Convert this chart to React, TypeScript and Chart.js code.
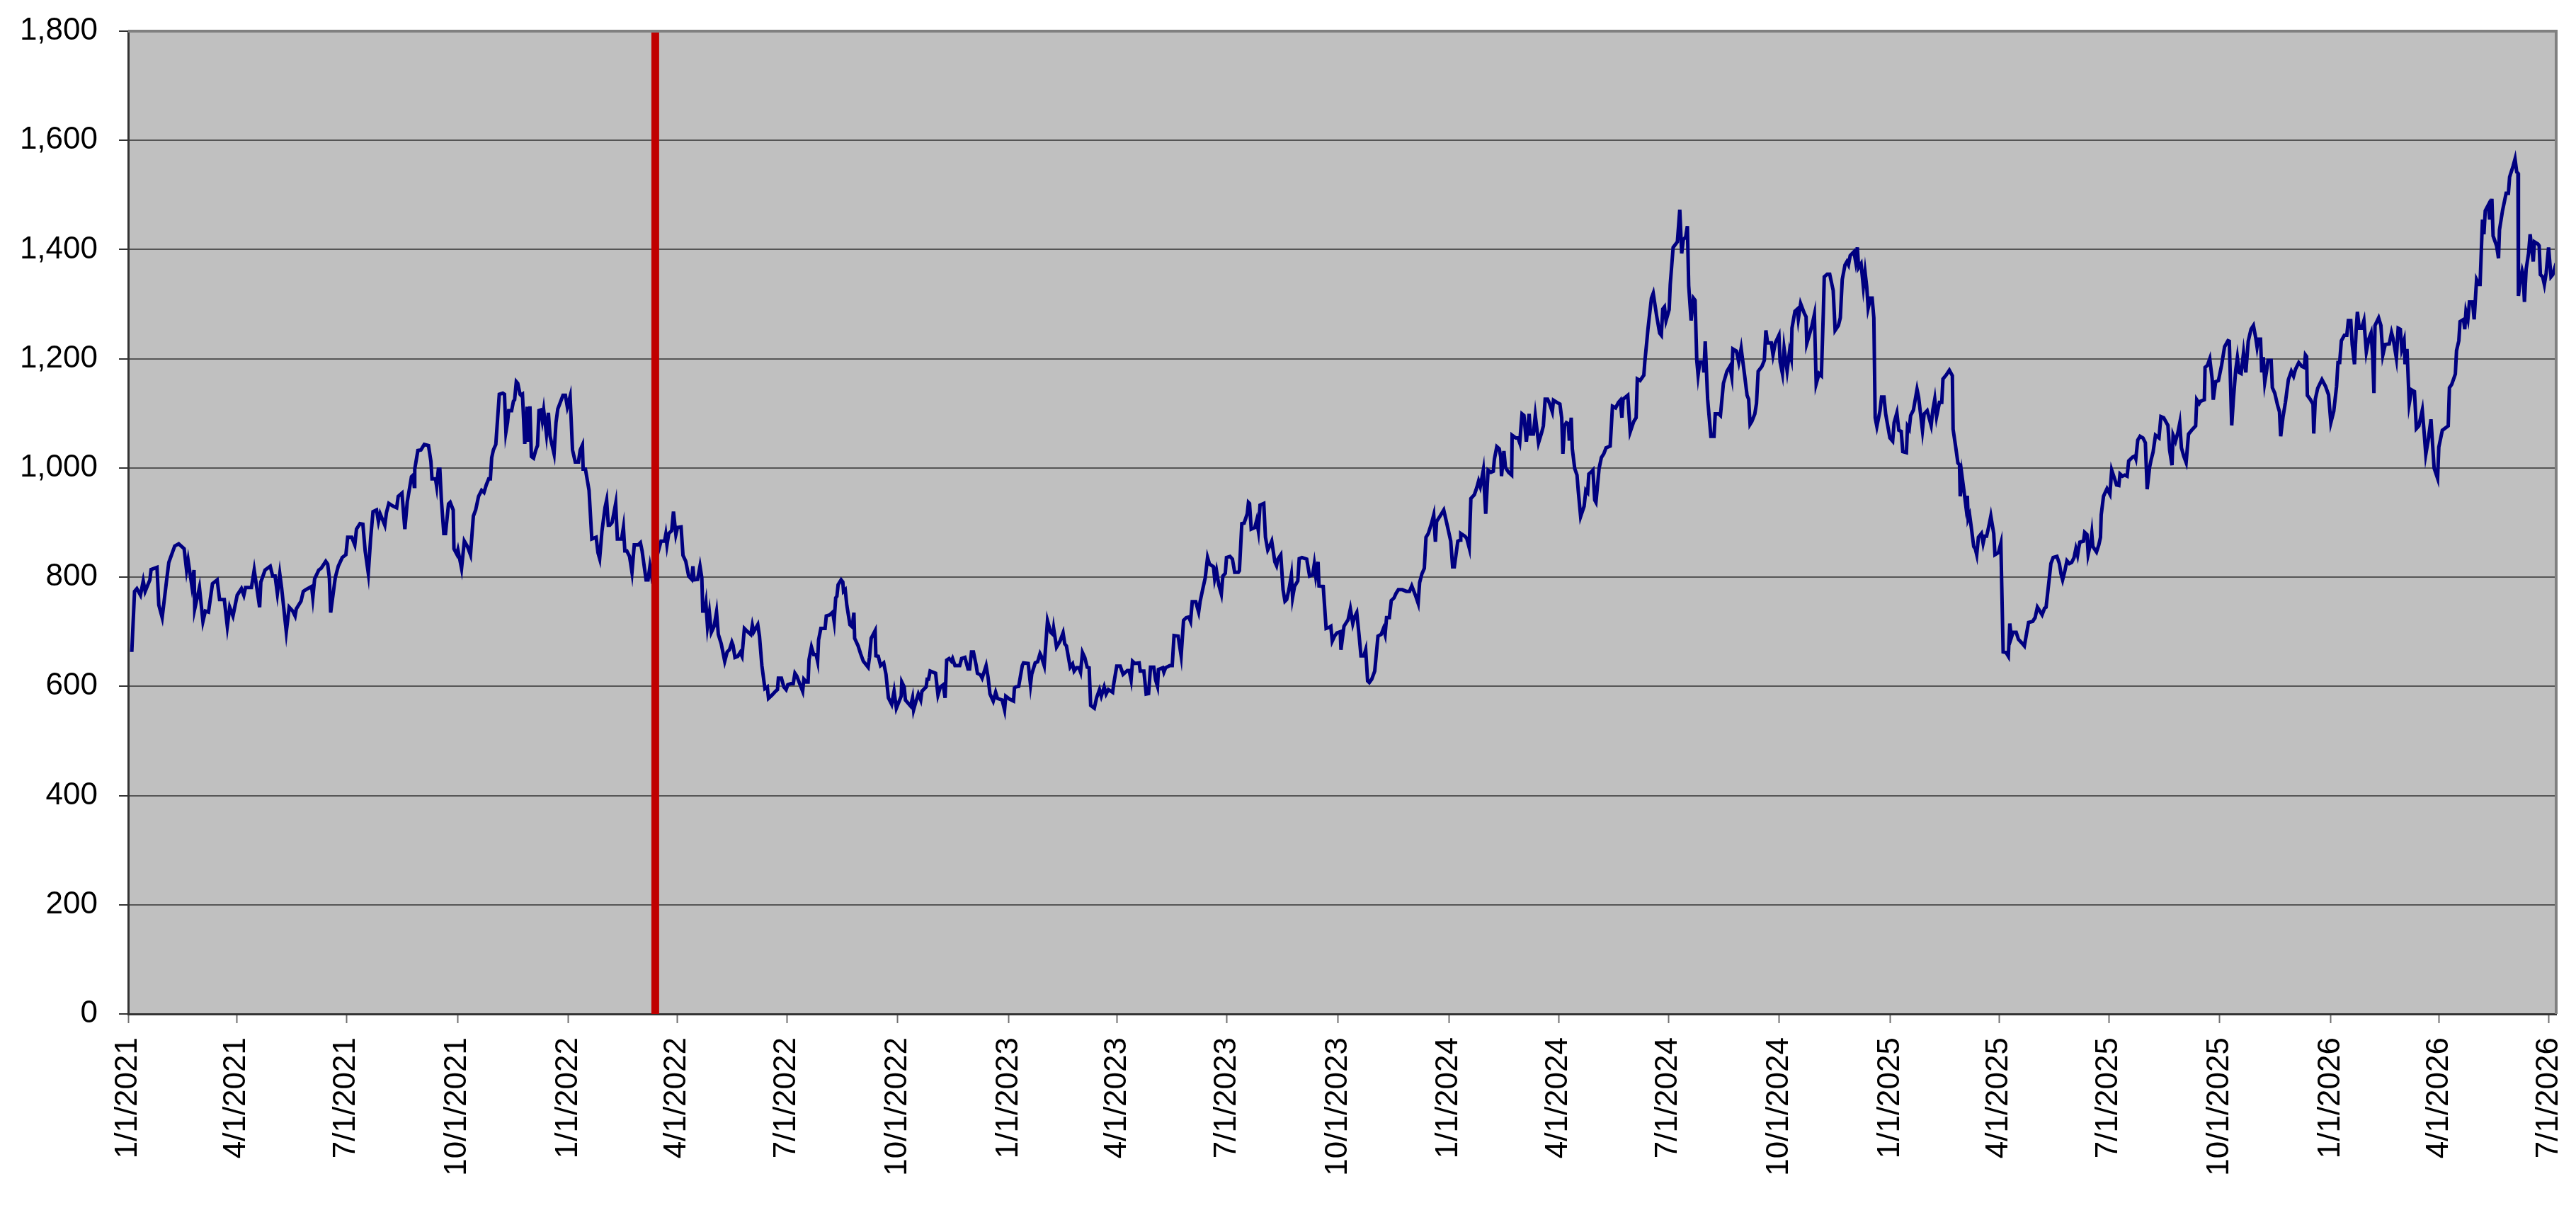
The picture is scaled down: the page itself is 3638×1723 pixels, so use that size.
import { useEffect, useRef } from "react";
import { Chart, registerables } from "chart.js";

Chart.register(...registerables);

// day offsets are counted from 1/1/2021
const START_DATE = "1/1/2021";
const LAST_DAY = 2013;
const EVENT_DATE = "3/14/2022";

const QUARTER_LABELS = [
    "1/1/2021", "4/1/2021", "7/1/2021", "10/1/2021",
    "1/1/2022", "4/1/2022", "7/1/2022", "10/1/2022",
    "1/1/2023", "4/1/2023", "7/1/2023", "10/1/2023",
    "1/1/2024", "4/1/2024", "7/1/2024", "10/1/2024",
    "1/1/2025", "4/1/2025", "7/1/2025", "10/1/2025",
    "1/1/2026", "4/1/2026", "7/1/2026",
];

const Y_MIN = 0;
const Y_MAX = 1800;
const Y_STEP = 200;

const points2021: [number, number][] = [
    [3, 663], [5.3, 774], [7.2, 779], [10.2, 767], [12.5, 793], [14.1, 774], [18, 795], [19, 814], [23.9, 818],
    [25.4, 749], [28.2, 726], [31.7, 791], [33.7, 827], [38.6, 857], [41.9, 861], [46.4, 852], [48.4, 813],
    [49.7, 831], [52.8, 784], [54.6, 813], [55.2, 742], [59.1, 781], [62, 719], [64, 738], [66.6, 736],
    [69.9, 788], [73.8, 795], [75.8, 759], [79.7, 759], [82.2, 710], [84.2, 745], [86.9, 729], [90.4, 767],
    [93.9, 779], [95.9, 767], [97.3, 781], [102.2, 781], [104.5, 813], [109, 745], [110, 791], [113.5, 813],
    [117.8, 820], [119.8, 802], [121.8, 802], [123.7, 770], [125.7, 806], [127.2, 781], [131.1, 700],
    [133.5, 745], [136.4, 738], [138.4, 729], [139.4, 742], [143.3, 756], [145.2, 774], [147.2, 777],
    [152.1, 783], [153.1, 763], [154.6, 797], [158, 813], [159.9, 816], [163.8, 829], [165.4, 824],
    [166.8, 799], [167.9, 735], [171.7, 799], [174.2, 820], [177.5, 836], [180.5, 841], [182, 873],
    [185.4, 873], [187.9, 859], [189.3, 888], [192.2, 898], [194.6, 897], [196.5, 848], [199.1, 807],
    [201, 870], [203, 920], [205.9, 923], [207.5, 902], [208.9, 916], [212.8, 895], [214.1, 918], [216.1, 935],
    [219.6, 930], [222.6, 927], [223.9, 948], [227, 954], [229.4, 888], [231.4, 938], [234.9, 984],
    [236.3, 987], [237.2, 966], [237.6, 998], [240.2, 1032], [242.7, 1033], [245.5, 1043], [249, 1041],
    [251, 1012], [251.9, 980], [254.8, 980], [255.8, 966], [257.2, 998], [258.4, 998], [259.7, 941],
    [261.7, 880], [263.1, 880], [265.6, 934], [267, 937], [269.5, 923], [270.1, 852], [272.5, 842],
    [273.4, 850], [276.4, 816], [278.7, 866], [281.3, 856], [283.8, 841], [286.2, 912], [288.1, 923],
    [290.5, 948], [293, 959], [295, 955], [296.9, 969], [298.9, 980], [300.3, 980], [301.4, 1019],
    [302.8, 1033], [304.8, 1043], [307.7, 1135], [310.6, 1137], [312, 1135], [313.2, 1066], [314.5, 1083],
    [315.5, 1105], [317.9, 1105], [319.4, 1122], [320.4, 1125], [321.8, 1158], [323, 1155], [324.9, 1135],
    [325.7, 1133], [326.9, 1135], [328.8, 1044], [330.8, 1112], [331.6, 1048], [333.1, 1113], [334.3, 1021],
    [336.1, 1018], [338, 1033], [339.4, 1041], [340.6, 1105], [341.9, 1106], [343.3, 1087], [344.5, 1106],
    [346.8, 1062], [348.4, 1101], [349.8, 1058], [353.1, 1026], [354.7, 1083], [356.2, 1108], [358.6, 1122],
    [360.5, 1133], [362.5, 1133], [364.1, 1112],
];

const points2022: [number, number][] = [
    [366.4, 1131], [368.4, 1033], [370.7, 1011], [373.3, 1011], [374.8, 1033], [376.6, 1042], [377.2, 998],
    [379.1, 998], [382.1, 959], [384.4, 870], [388, 873], [389.5, 845], [390.9, 834], [392.8, 884],
    [395.4, 928], [396.7, 941], [398.1, 895], [399.3, 895], [401.2, 900], [404.2, 935], [405.6, 870],
    [409.1, 870], [410.6, 891], [411.8, 848], [413.4, 848], [415.7, 838], [417.7, 809], [419.6, 859],
    [422.8, 859], [424.7, 863], [426.1, 848], [429.4, 795], [431, 795], [432.6, 820], [434, 802],
    [441.8, 866], [444.7, 866], [445.7, 878], [446.7, 859], [448.2, 880], [450.6, 885], [452.1, 920],
    [454.1, 878], [455.5, 891], [458.4, 892], [460, 840], [462.3, 829], [464.7, 802], [467.2, 796],
    [468.2, 820], [469.2, 795], [472.1, 796], [474.1, 820], [475.6, 799], [476.4, 738], [478, 738],
    [479, 752], [480.3, 710], [481.9, 735], [483.5, 699], [485.8, 710], [487.8, 736], [489.3, 695],
    [491.7, 678], [494.6, 646], [496.6, 663], [498.5, 667], [500.5, 681], [501.5, 675], [503.1, 653],
    [505.4, 655], [507.4, 662], [508.9, 655], [510.9, 706], [513.6, 700], [516.2, 695], [517.5, 712],
    [518.7, 700], [522, 713], [523.4, 692], [525.4, 638], [527.9, 596], [529.9, 599], [530.9, 578],
    [533.8, 584], [536.7, 591], [538.3, 594], [539.1, 615], [541.6, 615], [543.6, 599], [545.5, 594],
    [546.9, 603], [549.5, 605], [551.4, 605], [552.8, 624], [554.3, 619], [556.7, 605], [559.2, 591],
    [560.2, 613], [562.2, 608], [563.7, 608], [564.5, 649], [566.5, 672], [568.4, 658], [570.4, 658],
    [571.6, 646], [572.4, 685], [574.3, 706], [577.8, 706], [578.8, 729], [581.7, 731], [584.1, 736],
    [585.3, 719], [586.6, 762], [587.6, 765], [588.6, 786], [591.1, 795], [592.5, 791], [593.1, 774],
    [594.5, 777], [595.8, 749], [598.4, 713], [600.3, 709], [601.7, 735], [602.3, 688], [605.2, 674],
    [607.2, 660], [609.5, 646], [613.5, 635], [614.6, 653], [616, 688], [619.3, 702], [619.9, 656],
    [621.9, 655], [623.8, 638], [626.4, 643], [628.3, 622], [630.3, 579], [633, 567], [635, 591],
    [636.9, 560], [640.9, 582], [641.4, 608], [643.4, 599], [644.4, 575], [648.7, 564], [650.3, 579],
    [651.2, 557], [653.2, 573], [655.1, 586], [657.1, 575], [658.1, 591], [661.6, 599], [662.4, 613],
    [663.6, 613], [664.9, 628], [669.4, 624], [671.4, 584], [673.4, 599], [675.7, 603], [677.3, 579],
    [678.6, 648], [680.6, 651], [682.5, 646], [683.5, 651], [685.5, 638], [689.4, 638], [691, 651],
    [693.7, 653], [696.3, 632], [697.6, 632], [699.2, 663], [700.8, 663], [703.1, 638], [704.1, 624],
    [706.6, 621], [708, 615], [711.3, 638], [712.9, 617], [714.5, 586], [717.2, 573], [719.2, 589],
    [720.7, 578], [724.6, 575], [726.6, 557], [727.6, 582], [730.5, 577],
];

const points2023: [number, number][] = [
    [734, 573], [734.8, 597], [736, 599], [738.3, 600], [741.3, 638], [742.3, 643], [746.2, 642],
    [748.1, 603], [749.1, 622], [752, 643], [754, 645], [756, 660], [756.9, 656], [759.5, 638],
    [762.2, 720], [764.8, 699], [766.7, 695], [767.3, 706], [769.7, 672], [772.6, 683], [775.1, 698],
    [776.5, 678], [777.9, 674], [781, 635], [783, 641], [784.3, 628], [786.3, 634], [788.3, 634],
    [789.6, 626], [791.2, 662], [793.1, 653], [795.1, 635], [796.7, 634], [798, 565], [801, 560],
    [802.9, 579], [805.3, 594], [806.8, 582], [809.2, 599], [810.8, 586], [812.7, 594], [816.2, 589],
    [817, 603], [819.6, 637], [822.5, 637], [824.9, 622], [828.4, 629], [829.9, 629], [831.5, 612],
    [832.7, 646], [834.6, 642], [838.2, 643], [839.1, 628], [842.1, 628], [844, 586], [846, 587],
    [847.6, 635], [850.3, 635], [851.8, 612], [853.4, 600], [854.2, 631], [857.7, 634], [858.7, 626],
    [860.1, 634], [863.6, 638], [865.6, 638], [867.1, 693], [870.5, 692], [873, 656], [875, 721],
    [877.3, 726], [879.3, 727], [880.8, 719], [882.2, 755], [885.1, 755], [887.5, 736], [888.7, 755],
    [891, 779], [893, 799], [894.9, 836], [896.5, 824], [899.8, 819], [900.8, 797], [902.3, 812],
    [904.3, 785], [906.3, 769], [907.6, 802], [909.6, 807], [910.6, 836], [913.5, 838], [915.5, 833],
    [917.4, 809], [920.4, 809], [921.3, 812], [923.3, 898], [925.2, 899], [927.8, 916], [928.8, 937],
    [929.7, 935], [931.1, 888], [934.1, 891], [935.6, 904], [937, 885], [938.4, 932], [941.5, 935],
    [942.9, 873], [944.8, 850], [946.8, 859], [948.1, 866], [950.7, 828], [952.1, 821], [953.2, 833],
    [955.6, 841], [957.5, 777], [959.1, 756], [960.5, 759], [962.5, 779], [964.4, 804], [965.4, 763],
    [967, 783], [969.7, 793], [970.9, 834], [973.2, 836], [977.1, 833], [979.5, 802], [982, 804],
    [983.4, 824], [984.6, 802], [986.5, 828], [987.3, 784], [990.8, 783], [993.2, 706], [995.7, 708],
    [997.1, 710], [998.3, 683], [1000.2, 692], [1002.2, 698], [1004.9, 700], [1005.5, 667], [1008, 710],
    [1008.8, 713], [1011.4, 722], [1013.3, 742], [1015.3, 715], [1016.6, 726], [1018.6, 735], [1020.6, 692],
    [1022.1, 656], [1024.5, 656], [1026, 667], [1027.6, 610], [1029, 607], [1031, 613], [1033.5, 628],
    [1036.2, 692], [1038.8, 695], [1040.7, 706], [1042.1, 695], [1043.3, 726], [1045.6, 726], [1047.2, 757],
    [1049.5, 762], [1051.1, 770], [1053.1, 777], [1056.4, 777], [1059.7, 774], [1062.3, 774], [1064.2, 784],
    [1067.2, 767], [1069.5, 752], [1070.7, 790], [1072.6, 806], [1074.6, 816], [1076, 873], [1077.9, 880],
    [1080.5, 898], [1082.4, 914], [1083.8, 865], [1084.8, 902], [1087.7, 912], [1090.7, 923], [1093.6, 895],
];

const points2024: [number, number][] = [
    [1096.5, 866], [1098.1, 819], [1099.5, 819], [1102.4, 866], [1104.4, 868], [1104.8, 880], [1108.3, 875],
    [1109.8, 871], [1111.8, 854], [1113.2, 944], [1116.1, 951], [1118.1, 964], [1119.6, 976], [1121, 966],
    [1123.5, 996], [1125.5, 916], [1127.5, 996], [1129.8, 992], [1131.8, 994], [1132.7, 1016], [1134.7, 1039],
    [1136.7, 1035], [1138, 1020], [1138.6, 985], [1140.6, 1031], [1141.9, 1001], [1144.5, 992], [1147, 987],
    [1147.4, 1060], [1150.4, 1055], [1152.3, 1055], [1153.7, 1046], [1155.6, 1099], [1157.2, 1096],
    [1159.2, 1048], [1161.5, 1099], [1162.7, 1062], [1165, 1062], [1166.6, 1096], [1169.3, 1046],
    [1171.9, 1065], [1173.3, 1077], [1174.8, 1126], [1176.8, 1126], [1178.3, 1119], [1180.7, 1103],
    [1181.7, 1124], [1184.6, 1120], [1187, 1117], [1188.5, 1092], [1189.5, 1026], [1190.9, 1077],
    [1192.4, 1083], [1194, 1081], [1194.8, 1050], [1196.4, 1092], [1197.3, 1035], [1199.3, 999],
    [1201.2, 987], [1202.2, 959], [1204.2, 911], [1207.1, 930], [1208.5, 959], [1210, 955], [1211, 989],
    [1213.6, 994], [1214.4, 996], [1215.9, 941], [1216.9, 937], [1219.5, 999], [1221.4, 1019], [1223.4, 1026],
    [1225.3, 1037], [1228.7, 1040], [1230.6, 1113], [1233.2, 1110], [1235.5, 1120], [1237.1, 1124],
    [1238.4, 1092], [1239.4, 1126], [1243.3, 1133], [1245.3, 1066], [1248.2, 1085], [1250.2, 1092],
    [1251.2, 1163], [1253.5, 1160], [1256.6, 1170], [1257.4, 1194], [1259, 1230], [1260, 1254],
    [1262.9, 1311], [1264.4, 1320], [1267.2, 1279], [1269.7, 1247], [1271.1, 1243], [1272.3, 1291],
    [1273.7, 1295], [1275, 1270], [1277.6, 1290], [1278.5, 1336], [1280.9, 1404], [1284.4, 1414],
    [1286.4, 1473], [1288, 1393], [1289.3, 1418], [1291.3, 1423], [1292.7, 1443], [1293.8, 1334],
    [1295.8, 1270], [1297.7, 1311], [1299.1, 1307], [1300.5, 1197], [1301.6, 1170], [1303, 1194],
    [1305.6, 1194], [1306.4, 1175], [1307.5, 1232], [1309.5, 1126], [1312.2, 1058], [1314.8, 1058],
    [1315.8, 1099], [1318.7, 1099], [1320.1, 1096], [1321.2, 1122], [1322.6, 1155], [1325.5, 1177],
    [1327.9, 1186], [1329.5, 1167], [1330.4, 1218], [1333.4, 1214], [1335.3, 1194], [1337.3, 1219],
    [1340.2, 1169], [1342.2, 1133], [1343.5, 1126], [1344.7, 1080], [1346.1, 1085], [1348.6, 1099],
    [1350, 1118], [1351.4, 1177], [1354.5, 1186], [1356.5, 1197], [1357.8, 1252], [1359.2, 1229],
    [1362.3, 1229], [1363.7, 1207], [1365.6, 1229], [1368.6, 1243], [1369.6, 1194], [1371.5, 1173],
    [1372.9, 1219], [1375.4, 1178], [1377.4, 1214], [1378.8, 1201], [1379.4, 1256], [1381.9, 1287],
    [1383.9, 1291], [1384.7, 1273], [1386.6, 1301], [1389.7, 1283], [1391.1, 1277], [1391.7, 1228],
    [1394.1, 1246], [1396, 1261], [1398, 1281], [1399.5, 1154], [1401.9, 1173], [1403.8, 1169],
    [1405.4, 1284], [1406.2, 1350], [1408.7, 1355], [1410.7, 1355], [1413.6, 1325], [1415.2, 1252],
    [1417.9, 1261], [1419.5, 1275], [1421.1, 1345], [1423.4, 1372], [1425, 1378], [1426.3, 1372],
    [1427.7, 1389], [1430.8, 1396], [1432.2, 1378], [1433.6, 1404], [1434.7, 1367], [1436.7, 1374],
    [1438.6, 1332], [1440, 1359], [1441.4, 1332], [1442.6, 1293], [1444.5, 1311], [1445.9, 1311],
    [1447.3, 1275], [1448.4, 1092], [1449.8, 1076], [1452.4, 1105], [1453.7, 1130], [1455.7, 1130],
    [1457.1, 1099], [1460.6, 1055],
];

const points2025: [number, number][] = [
    [1462.9, 1049], [1464.1, 1083], [1466.4, 1101], [1468, 1069], [1470, 1067], [1471.3, 1030], [1474.3, 1028],
    [1475.2, 1076], [1476.6, 1071], [1477.8, 1096], [1480.1, 1106], [1483.1, 1144], [1484.4, 1130],
    [1487.6, 1069], [1489, 1099], [1491.5, 1105], [1494.8, 1078], [1496.2, 1106], [1497.8, 1126],
    [1499.3, 1094], [1501.7, 1120], [1503.6, 1120], [1504.6, 1163], [1507.2, 1170], [1509.9, 1179],
    [1512.4, 1169], [1513, 1071], [1515, 1041], [1517, 1009], [1518.3, 1006], [1518.9, 948], [1520.3, 987],
    [1522.2, 955], [1523.6, 930], [1524.8, 949], [1525.5, 907], [1526.7, 914], [1528.1, 891], [1530.1, 856],
    [1531.4, 852], [1532.6, 841], [1534, 873], [1536.5, 880], [1537.9, 862], [1539.2, 875], [1540.8, 875],
    [1542.8, 895], [1544.3, 912], [1546.7, 880], [1547.7, 841], [1550.6, 845], [1552.6, 862], [1554.5, 663],
    [1556.9, 662], [1558.8, 655], [1560, 715], [1561.4, 690], [1562.7, 699], [1565.3, 699], [1567.2, 686],
    [1570.2, 679], [1572.1, 674], [1574.1, 699], [1575.6, 717], [1579, 719], [1581, 726], [1582.9, 745],
    [1584.9, 738], [1586.8, 731], [1588.8, 743], [1590.1, 745], [1592.7, 797], [1594.1, 825], [1596, 836],
    [1599.1, 838], [1601.1, 825], [1602.5, 806], [1603.8, 795], [1605.4, 809], [1607.4, 830], [1609.4, 825],
    [1611.3, 827], [1613.3, 836], [1614.8, 852], [1616.2, 840], [1617.2, 854], [1618.1, 864], [1621.1, 866],
    [1622.1, 882], [1624, 878], [1625, 842], [1627, 862], [1628, 880], [1628.9, 856], [1631.9, 846],
    [1633.8, 859], [1635.2, 873], [1635.8, 914], [1637.7, 948], [1639.1, 955], [1640.6, 962], [1643, 952],
    [1644.5, 996], [1646.5, 983], [1648.5, 969], [1650.4, 968], [1651.4, 989], [1653.4, 985], [1655.3, 987],
    [1657.3, 985], [1658.6, 1013], [1661.8, 1020], [1663.7, 1022], [1664.5, 1017], [1666.1, 1051],
    [1668, 1058], [1670.4, 1055], [1672.4, 1046], [1673.9, 961], [1675.9, 1001], [1677.4, 1017],
    [1678.8, 1029], [1680.8, 1060], [1683.7, 1055], [1685.3, 1094], [1687.6, 1092], [1691.1, 1078],
    [1692.5, 1033], [1694.5, 1005], [1695.4, 1060], [1697.4, 1049], [1699.4, 1065], [1700.9, 1082],
    [1702.3, 1037], [1704.2, 1022], [1706.2, 1010], [1708.2, 1062], [1711.1, 1070], [1714.1, 1077],
    [1715, 1125], [1717, 1118], [1718, 1122], [1721.3, 1125], [1721.9, 1184], [1723.9, 1188], [1725.8, 1200],
    [1727.8, 1163], [1728.7, 1125], [1730.7, 1158], [1733, 1160], [1735.6, 1188], [1738.1, 1222],
    [1740.9, 1233], [1742, 1232], [1744, 1078], [1745.4, 1126], [1747.3, 1179], [1748.7, 1202],
    [1750.2, 1175], [1751.8, 1173], [1753.8, 1211], [1755.7, 1175], [1757.7, 1232], [1760, 1254],
    [1762, 1261], [1764, 1237], [1765, 1222], [1766, 1236], [1767.9, 1236], [1768.9, 1175], [1770.2, 1203],
    [1771.4, 1157], [1772.8, 1176], [1774.1, 1197], [1776.7, 1197], [1777.7, 1147], [1779.7, 1137],
    [1782, 1115], [1783.6, 1103], [1784.6, 1058], [1786.5, 1093], [1788.5, 1120], [1791, 1162],
    [1793.4, 1177], [1795.3, 1168], [1796.9, 1181], [1799.6, 1193], [1802.2, 1186], [1804.1, 1184],
    [1805.1, 1207], [1806.1, 1204], [1806.7, 1133], [1809, 1126], [1811.4, 1117], [1812, 1063],
    [1813.3, 1126], [1815.3, 1146], [1818.8, 1162], [1821.7, 1150], [1824.3, 1134], [1826.2, 1083],
];

const points2026: [number, number][] = [
    [1828.6, 1104], [1830.9, 1149], [1832.1, 1193], [1833.5, 1193], [1834.9, 1233], [1837.4, 1243],
    [1839.4, 1243], [1840.7, 1270], [1842.7, 1270], [1843.9, 1226], [1845.8, 1190], [1847.2, 1254],
    [1848.2, 1286], [1849.7, 1256], [1851.7, 1256], [1853.6, 1270], [1855.6, 1213], [1857.6, 1236],
    [1859.5, 1247], [1860.9, 1204], [1861.9, 1137], [1862.8, 1261], [1865.8, 1275], [1867.7, 1261],
    [1869.3, 1207], [1871.3, 1226], [1874.6, 1227], [1876.5, 1248], [1877.9, 1236], [1880.5, 1201],
    [1882, 1256], [1883.8, 1254], [1885, 1218], [1886.9, 1233], [1887.7, 1190], [1889.3, 1218],
    [1891.2, 1118], [1893.2, 1143], [1895.5, 1140], [1897.1, 1072], [1899.1, 1077], [1902, 1106],
    [1903.4, 1069], [1904.9, 1025], [1906.9, 1051], [1909.2, 1089], [1910.4, 1048], [1911.8, 1000],
    [1914.7, 981], [1915.7, 1038], [1918.6, 1069], [1923.5, 1077], [1924.5, 1147], [1926.4, 1153],
    [1929.4, 1172], [1930.4, 1215], [1932.3, 1233], [1933.3, 1268], [1936.2, 1272], [1937.2, 1254],
    [1938.2, 1286], [1939.8, 1272], [1941.1, 1304], [1943.7, 1304], [1945, 1272], [1947, 1345],
    [1949, 1336], [1949.9, 1336], [1951.9, 1455], [1953.1, 1428], [1954.2, 1471], [1956.8, 1482],
    [1957.8, 1455], [1959.7, 1493], [1960.7, 1425], [1963.6, 1407], [1965.2, 1384], [1966, 1436],
    [1968.5, 1471], [1971.5, 1503], [1973.4, 1503], [1974.4, 1533], [1977.3, 1553], [1978.9, 1566],
    [1980.3, 1542], [1981.3, 1540], [1981.7, 1315], [1982.8, 1336], [1984.8, 1361], [1985.6, 1354],
    [1986.7, 1304], [1988.1, 1364], [1990.1, 1393], [1991.4, 1428], [1994, 1378], [1995, 1414],
    [1997.9, 1410], [1998.9, 1407], [1999.9, 1354], [2001.8, 1350], [2003.2, 1336], [2004.7, 1357],
    [2006.7, 1404], [2008.7, 1350], [2010.2, 1354], [2013, 1375],
];

const FONT = "'Liberation Sans', Arial, Helvetica, sans-serif";

function dayOf(label: string) {
    const [m, d, y] = label.split("/").map(Number);
    const [m0, d0, y0] = START_DATE.split("/").map(Number);
    return Math.round((Date.UTC(y, m - 1, d) - Date.UTC(y0, m0 - 1, d0)) / 86400000);
}

// fills the plot area grey and draws the light frame on the top and right
const plotFrame = {
    id: "plotFrame",
    beforeDraw(chart: Chart) {
        const { ctx, chartArea } = chart;
        ctx.save();
        ctx.fillStyle = "#C0C0C0";
        ctx.fillRect(chartArea.left, chartArea.top, chartArea.width, chartArea.height);
        ctx.restore();
    },
    afterDraw(chart: Chart) {
        const { ctx, chartArea } = chart;
        ctx.save();
        ctx.strokeStyle = "#808080";
        ctx.lineWidth = 4;
        ctx.beginPath();
        ctx.moveTo(chartArea.left, chartArea.top);
        ctx.lineTo(chartArea.right, chartArea.top);
        ctx.lineTo(chartArea.right, chartArea.bottom);
        ctx.stroke();
        ctx.restore();
    },
};

export default function App() {
    const canvasRef = useRef<HTMLCanvasElement>(null);

    useEffect(() => {
        if (!canvasRef.current) return;

        const series = [...points2021, ...points2022, ...points2023, ...points2024, ...points2025, ...points2026]
            .map(([x, y]) => ({ x, y }));
        const quarterDays = QUARTER_LABELS.map(dayOf);
        const eventDay = dayOf(EVENT_DATE);

        const chart = new Chart(canvasRef.current, {
            type: "line",
            data: {
                datasets: [
                    {
                        label: "event",
                        data: [{ x: eventDay, y: Y_MIN }, { x: eventDay, y: Y_MAX }],
                        borderColor: "#C00000",
                        borderWidth: 11,
                        pointRadius: 0,
                        order: 0,
                    },
                    {
                        label: "index",
                        data: series,
                        borderColor: "#000080",
                        borderWidth: 5,
                        pointRadius: 0,
                        tension: 0,
                        order: 1,
                    },
                ],
            },
            options: {
                animation: false,
                responsive: true,
                maintainAspectRatio: false,
                layout: { padding: { top: 44, right: 28, left: 0, bottom: 0 } },
                plugins: {
                    legend: { display: false },
                    tooltip: { enabled: false },
                },
                scales: {
                    x: {
                        type: "linear",
                        min: 0,
                        max: LAST_DAY,
                        afterBuildTicks: (scale) => {
                            scale.ticks = quarterDays.map((value) => ({ value }));
                        },
                        afterFit: (scale) => {
                            // fixed axis band; the rotated end labels must not squeeze the plot
                            scale.height = 291;
                            scale.paddingLeft = 0;
                            scale.paddingRight = 0;
                        },
                        ticks: {
                            autoSkip: false,
                            minRotation: 90,
                            maxRotation: 90,
                            padding: 20,
                            color: "#000",
                            font: { family: FONT, size: 44 },
                            callback: (_value, index) => QUARTER_LABELS[index],
                        },
                        grid: {
                            drawOnChartArea: false,
                            tickLength: 13,
                            tickWidth: 2,
                            tickColor: "#707070",
                        },
                        border: { display: true, color: "#333", width: 3 },
                    },
                    y: {
                        min: Y_MIN,
                        max: Y_MAX,
                        afterFit: (scale) => {
                            scale.width = 181;
                            scale.paddingTop = 0;
                            scale.paddingBottom = 0;
                        },
                        ticks: {
                            stepSize: Y_STEP,
                            padding: 30,
                            color: "#000",
                            font: { family: FONT, size: 44 },
                            callback: (value) => Number(value).toLocaleString("en-US"),
                        },
                        grid: {
                            color: "#555",
                            lineWidth: 2,
                            tickLength: 13,
                            tickColor: "#333",
                        },
                        border: { display: true, color: "#333", width: 3 },
                    },
                },
            },
            plugins: [plotFrame],
        });

        return () => chart.destroy();
    }, []);

    return (
        <div style={{ position: "fixed", left: 0, top: 0, width: "100vw", height: "100vh", background: "#fff" }}>
            <canvas ref={canvasRef}></canvas>
        </div>
    );
}
